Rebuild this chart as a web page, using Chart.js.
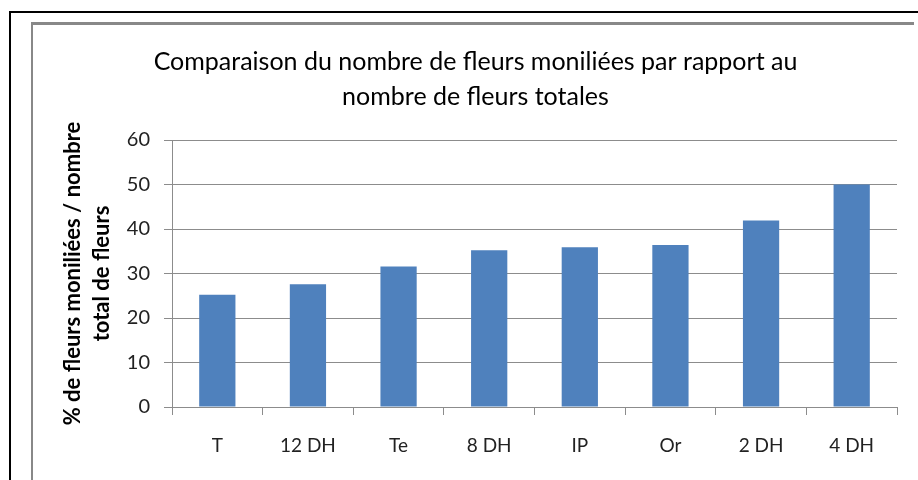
<!DOCTYPE html>
<html>
<head>
<meta charset="utf-8">
<script src="https://cdn.jsdelivr.net/npm/chart.js@4"></script>
<style>
  html, body { margin:0; padding:0; background:#fff; overflow:hidden; }
  #outer { position:absolute; left:9px; top:11px; width:940px; height:520px;
           border-left:2px solid #000; border-top:2px solid #000; }
  #inner { position:absolute; left:31px; top:22px; width:881px; height:500px;
           border-left:2px solid #888; border-top:3px solid #888; }
  #wrap { position:absolute; left:0; top:0; width:918px; height:480px; }
</style>
</head>
<body>
<div id="outer"></div>
<div id="inner"></div>
<div id="wrap"><canvas id="chart" width="918" height="480"></canvas></div>
<script>
const categories = ['T', '12 DH', 'Te', '8 DH', 'IP', 'Or', '2 DH', '4 DH'];
const values = [25.2, 27.6, 31.6, 35.2, 35.9, 36.4, 41.9, 50.0];
const titleLines = ['Comparaison du nombre de fleurs moniliées par rapport au', 'nombre de fleurs totales'];
const yTitleLines = ['% de fleurs moniliées / nombre', 'total de fleurs'];

const FONT = "Lato, 'Open Sans', sans-serif";

new Chart(document.getElementById('chart'), {
  type: 'bar',
  data: {
    labels: categories,
    datasets: [{
      data: values,
      backgroundColor: '#4f81bd',
      borderWidth: 0,
      categoryPercentage: 0.4,
      barPercentage: 1
    }]
  },
  options: {
    responsive: false,
    animation: false,
    // left padding recentres the title over the frame
    layout: { padding: { left: 54, right: 21, top: 0, bottom: 0 } },
    plugins: {
      legend: { display: false },
      tooltip: { enabled: false },
      title: {
        display: true,
        text: titleLines,
        color: '#000',
        font: { family: FONT, size: 25, weight: 'normal', lineHeight: 1.4 },
        padding: { top: 44, bottom: 26 }
      }
    },
    scales: {
      x: {
        grid: { display: true, drawOnChartArea: false, offset: true, color: '#8c8c8c', tickLength: 8 },
        border: { color: '#8c8c8c', width: 1 },
        ticks: { color: '#222', font: { family: FONT, size: 19 }, padding: 19, maxRotation: 0 },
        afterFit: s => { s.height = 73; }
      },
      y: {
        min: 0, max: 60,
        ticks: { stepSize: 10, color: '#222', font: { family: FONT, size: 20 }, padding: 14 },
        grid: { color: '#8c8c8c', tickLength: 8 },
        border: { color: '#8c8c8c', width: 1 },
        title: {
          display: true,
          text: yTitleLines,
          color: '#000',
          font: { family: FONT, size: 22, weight: 'bold', lineHeight: 1.32 },
          padding: { top: 4, bottom: 0 }
        },
        afterFit: s => { s.width = 118; }
      }
    }
  }
});
</script>
</body>
</html>
